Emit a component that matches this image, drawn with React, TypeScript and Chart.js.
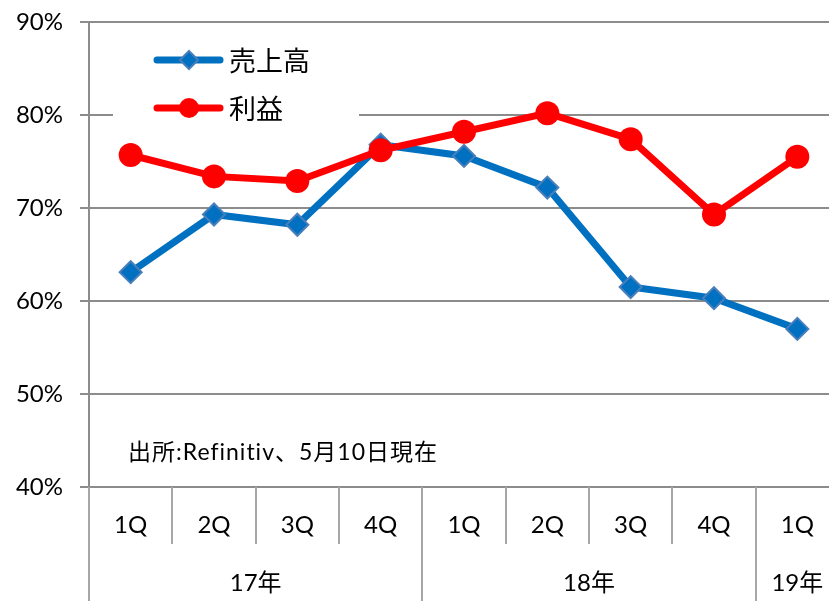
import React, { useEffect, useRef } from "react";
import { Chart, registerables } from "chart.js";

Chart.register(...registerables);

const quarterLabels = ["1Q", "2Q", "3Q", "4Q", "1Q", "2Q", "3Q", "4Q", "1Q"];
const yearLabels = ["17年", "18年", "19年"];
const yearSpans = [4, 4, 1];
const salesValues = [63.1, 69.3, 68.2, 76.8, 75.6, 72.2, 61.5, 60.3, 57.0];
const profitValues = [75.7, 73.4, 72.9, 76.2, 78.2, 80.2, 77.4, 69.3, 75.5];
const seriesNames = ["売上高", "利益"];
const yMin = 40;
const yMax = 90;
const yStep = 10;
const sourceNote = "出所:Refinitiv、5月10日現在";

const BLUE = "#0070C0";
const BLUE_EDGE = "#4A7EBB";
const RED = "#FF0000";
const GRID = "#8C8C8C";
const DIVIDER = "#A6A6A6";
const LATIN = "Lato, 'Noto Sans CJK JP', sans-serif";
const CJK = "'Noto Sans CJK JP', sans-serif";

const decorPlugin = {
  id: "decor",
  afterDraw(chart: any) {
    const ctx = chart.ctx as CanvasRenderingContext2D;
    const x = chart.scales.x;
    const area = chart.chartArea;
    const n = quarterLabels.length;
    const bottomY = area.bottom;
    const H = chart.height;
    const boundary = (i: number) => {
      if (i <= 0) return area.left;
      if (i >= n) return area.right;
      return (x.getPixelForValue(i - 1) + x.getPixelForValue(i)) / 2;
    };
    ctx.save();

    // legend box
    ctx.fillStyle = "#FFFFFF";
    ctx.fillRect(113, 34, 246, 96);
    const legendRows = [
      { y: 60, color: BLUE, name: seriesNames[0], kind: "diamond" },
      { y: 108, color: RED, name: seriesNames[1], kind: "circle" },
    ];
    for (const row of legendRows) {
      ctx.strokeStyle = row.color;
      ctx.lineWidth = 7;
      ctx.lineCap = "round";
      ctx.beginPath();
      ctx.moveTo(157, row.y);
      ctx.lineTo(220, row.y);
      ctx.stroke();
      ctx.lineCap = "butt";
      if (row.kind === "diamond") {
        ctx.beginPath();
        ctx.moveTo(189, row.y - 9);
        ctx.lineTo(198, row.y);
        ctx.lineTo(189, row.y + 9);
        ctx.lineTo(180, row.y);
        ctx.closePath();
        ctx.fillStyle = BLUE;
        ctx.fill();
        ctx.strokeStyle = BLUE_EDGE;
        ctx.lineWidth = 2;
        ctx.stroke();
      } else {
        ctx.beginPath();
        ctx.arc(189, row.y, 10, 0, Math.PI * 2);
        ctx.fillStyle = RED;
        ctx.fill();
      }
      ctx.fillStyle = "#000";
      ctx.font = `27px ${CJK}`;
      ctx.textAlign = "left";
      ctx.textBaseline = "middle";
      ctx.fillText(row.name, 229, row.y + 1);
    }

    // source note
    ctx.fillStyle = "#000";
    ctx.font = `23px ${LATIN}`;
    (ctx as any).letterSpacing = "1px";
    ctx.textAlign = "left";
    ctx.textBaseline = "middle";
    ctx.fillText(sourceNote, 128, 453);
    (ctx as any).letterSpacing = "0px";

    // category dividers
    ctx.strokeStyle = DIVIDER;
    ctx.lineWidth = 2;
    const yearBoundaries = new Set<number>();
    let acc = 0;
    yearBoundaries.add(0);
    for (const s of yearSpans) {
      acc += s;
      yearBoundaries.add(acc);
    }
    for (let i = 0; i < n; i++) {
      const bx = Math.round(boundary(i));
      ctx.beginPath();
      ctx.moveTo(bx, bottomY);
      ctx.lineTo(bx, yearBoundaries.has(i) ? H : bottomY + 57);
      ctx.stroke();
    }

    // quarter labels
    ctx.fillStyle = "#000";
    ctx.font = `24px ${LATIN}`;
    ctx.textAlign = "center";
    ctx.textBaseline = "middle";
    quarterLabels.forEach((q, i) => {
      ctx.fillText(q, x.getPixelForValue(i), bottomY + 38);
    });

    // year labels
    let start = 0;
    yearLabels.forEach((yl, k) => {
      const end = start + yearSpans[k];
      const cx = (boundary(start) + boundary(end)) / 2;
      ctx.fillText(yl, cx, bottomY + 96);
      start = end;
    });

    ctx.restore();
  },
};

export default function App() {
  const ref = useRef<HTMLCanvasElement | null>(null);

  useEffect(() => {
    if (!ref.current) return;
    const chart = new Chart(ref.current, {
      type: "line",
      data: {
        labels: quarterLabels.map((q, i) => `${q}-${i}`),
        datasets: [
          {
            label: seriesNames[0],
            data: salesValues,
            borderColor: BLUE,
            backgroundColor: BLUE,
            borderWidth: 7,
            pointStyle: "rectRot",
            pointRadius: 11,
            pointBackgroundColor: BLUE,
            pointBorderColor: BLUE_EDGE,
            pointBorderWidth: 2,
            tension: 0,
            order: 1,
          },
          {
            label: seriesNames[1],
            data: profitValues,
            borderColor: RED,
            backgroundColor: RED,
            borderWidth: 7,
            pointStyle: "circle",
            pointRadius: 12,
            pointBackgroundColor: RED,
            pointBorderColor: RED,
            pointBorderWidth: 0,
            tension: 0,
            order: 0,
          },
        ],
      },
      options: {
        animation: false,
        responsive: false,
        devicePixelRatio: 1,
        layout: { autoPadding: false, padding: { top: 22, bottom: 114, left: 0, right: 11 } },
        plugins: {
          legend: { display: false },
          tooltip: { enabled: false },
        },
        scales: {
          x: {
            type: "category",
            display: false,
            offset: true,
          },
          y: {
            min: yMin,
            max: yMax,
            ticks: {
              stepSize: yStep,
              callback: (v: any) => `${v}%`,
              font: { family: LATIN, size: 24 },
              color: "#000",
              padding: 17,
            },
            grid: {
              color: GRID,
              lineWidth: 2,
              tickLength: 9,
              drawTicks: true,
            },
            border: { display: true, color: GRID, width: 2 },
            afterFit: (scale: any) => {
              scale.width = 89;
              scale.paddingTop = 0;
              scale.paddingBottom = 0;
            },
          },
        },
      },
      plugins: [decorPlugin],
    } as any);
    return () => chart.destroy();
  }, []);

  return (
    <div
      style={{
        position: "fixed",
        left: 0,
        top: 0,
        width: 850,
        height: 601,
        overflow: "hidden",
        background: "#fff",
      }}
    >
      <canvas ref={ref} width={850} height={601} style={{ display: "block" }} />
    </div>
  );
}
